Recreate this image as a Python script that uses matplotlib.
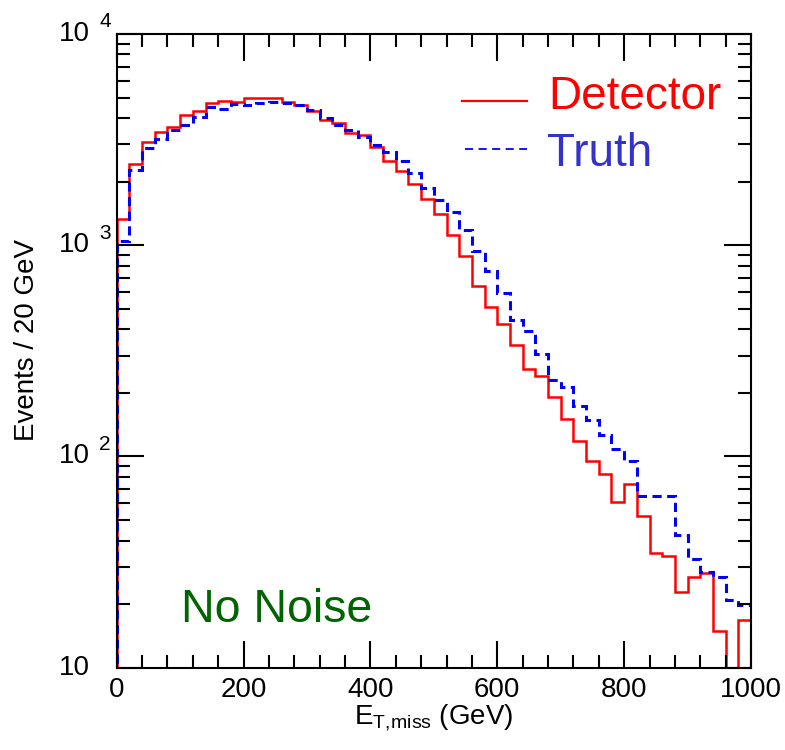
import numpy as np
import matplotlib
matplotlib.use("Agg")
import matplotlib.pyplot as plt
from matplotlib import transforms
from matplotlib.lines import Line2D
from matplotlib.ticker import MultipleLocator, LogLocator, NullFormatter

plt.rcParams['font.family'] = ['Liberation Sans', 'DejaVu Sans']
plt.rcParams['mathtext.fontset'] = 'custom'
plt.rcParams['mathtext.rm'] = 'Liberation Sans'
plt.rcParams['mathtext.it'] = 'Liberation Sans'

# ---- data: 50 bins of 20 GeV from 0 to 1000 ----
bin_edges = np.arange(0, 1001, 20)
detector = [1328, 2427, 3075, 3439, 3645, 4140, 4337, 4733, 4822, 4766,
            5000, 5000, 5000, 4786, 4615, 4325, 3918, 3784, 3390, 3327,
            2911, 2516, 2249, 1950, 1652, 1406, 1115, 889, 644, 512,
            424, 336, 259, 240, 191, 150, 118, 95, 83, 60.7,
            74.3, 52.4, 34.8, 33.7, 22.8, 26.8, 28.0, 14.9, 5, 16.9]
truth = [1052, 2274, 2878, 3178, 3516, 3713, 4038, 4531, 4406, 4666,
         4615, 4733, 4786, 4733, 4615, 4372, 3993, 3713, 3516, 3267,
         2985, 2774, 2507, 2193, 1862, 1638, 1442, 1181, 943, 755,
         593, 443, 394, 306, 230, 214, 173, 149, 126, 109,
         95, 65, 65, 65, 42.5, 32.6, 28.5, 26.8, 20.9, 19.7]
x_ticks = [0, 200, 400, 600, 800, 1000]
y_major = [10, 100, 1000, 10000]
y_exp = ['', '2', '3', '4']

W, H = 785, 750
fig = plt.figure(figsize=(W / 100, H / 100), dpi=100)
ax = fig.add_axes([116.7 / W, 1 - 667.7 / H, (751 - 116.7) / W, (667.7 - 34) / H])

ax.stairs(detector, bin_edges, baseline=1, color='#ff0000', lw=1.8)
ax.stairs(truth, bin_edges, baseline=1, color='#0000ff', lw=2.2,
          linestyle=(0, (3.0, 1.8)))

ax.set_xlim(0, 1000)
ax.set_yscale('log')
ax.set_ylim(10, 10000)

for s in ax.spines.values():
    s.set_linewidth(1.5)

ax.xaxis.set_major_locator(MultipleLocator(200))
ax.xaxis.set_minor_locator(MultipleLocator(40))
ax.yaxis.set_major_locator(LogLocator(base=10, numticks=10))
ax.yaxis.set_minor_locator(LogLocator(base=10, subs=np.arange(2, 10), numticks=20))
ax.yaxis.set_major_formatter(NullFormatter())
ax.yaxis.set_minor_formatter(NullFormatter())
ax.tick_params(which='both', direction='in', top=True, right=True, width=1.5)
ax.tick_params(which='major', length=19.5)
ax.tick_params(which='minor', length=9.5)
ax.tick_params(axis='x', labelsize=20, pad=7)
ax.set_xticks(x_ticks)
ax.set_xticklabels([str(t) for t in x_ticks])

# custom y tick labels: "10" with a raised exponent
trans = transforms.blended_transform_factory(fig.transFigure, ax.transData)
for v, e in zip(y_major, y_exp):
    ax.text(90 / W, v, '10', transform=trans, ha='right', va='center',
            fontsize=20, clip_on=False)
    if e:
        ax.text(99 / W, v * 10 ** (12 / 211.2), e, transform=trans,
                ha='left', va='center', fontsize=15, clip_on=False)

ax.set_xlabel(r'$\mathrm{E}_{\mathrm{T,\!miss}}$ (GeV)', fontsize=20, labelpad=-1)
ax.set_ylabel('Events / 20 GeV', fontsize=20, va='center')
ax.yaxis.set_label_coords((27 - 116.7) / (751 - 116.7), (667.7 - 340) / (667.7 - 34))

# legend drawn by hand
fig.add_artist(Line2D([462 / W, 527 / W], [1 - 101 / H] * 2, color='#ff0000', lw=1.6))
fig.add_artist(Line2D([465 / W, 527 / W], [1 - 149 / H] * 2, color='#0000ff', lw=1.3,
                      linestyle=(0, (4.5, 3.0))))
fig.text(548 / W, 1 - 109 / H, 'Detector', color='#ff0000', fontsize=33, va='baseline')
fig.text(547 / W, 1 - 166 / H, 'Truth', color='#3333cc', fontsize=33, va='baseline')

fig.text(181 / W, 1 - 621.7 / H, 'No Noise', color='#006400', fontsize=33.5, va='baseline')

fig.savefig('out.png', dpi=100)
